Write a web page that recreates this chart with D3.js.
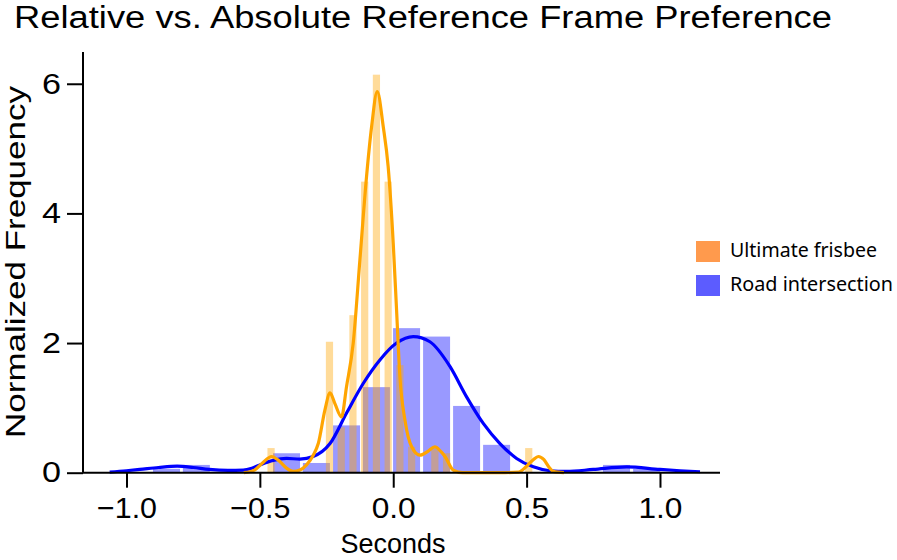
<!DOCTYPE html>
<html>
<head>
<meta charset="utf-8">
<script src="https://cdn.jsdelivr.net/npm/d3@7"></script>
<style>
  html, body { margin: 0; padding: 0; background: #ffffff; }
  svg { display: block; }
  text { font-family: "Liberation Sans", Arial, sans-serif; fill: #000; }
</style>
</head>
<body>
<svg id="chart" width="897" height="560"></svg>
<script>
// ---------------- data ----------------
const title = "Relative vs. Absolute Reference Frame Preference";
const xLabel = "Seconds";
const yLabel = "Normalized Frequency";
const seriesNames = ["Ultimate frisbee", "Road intersection"];

const xTicks = [-1.0, -0.5, 0.0, 0.5, 1.0];
const yTicks = [0, 2, 4, 6];

// histogram: Ultimate frisbee (narrow bins)
const frisbeeBinWidth = 0.0439;
const frisbeeBinCenters = [-0.458, -0.239, -0.195, -0.151, -0.107, -0.063, -0.019, 0.025, 0.069, 0.113, 0.156, 0.200, 0.508];
const frisbeeBinHeights = [0.38, 2.02, 0.70, 2.43, 4.49, 6.14, 4.49, 1.66, 0.40, 0.0, 0.38, 0.30, 0.38];

// histogram: Road intersection (wide bins)
const roadBinWidth = 0.1125;
const roadBinCenters = [-0.850, -0.738, -0.400, -0.288, -0.175, -0.063, 0.050, 0.1625, 0.275, 0.3875, 0.837, 0.950];
const roadBinHeights = [0.06, 0.12, 0.30, 0.15, 0.73, 1.32, 2.23, 2.10, 1.03, 0.43, 0.12, 0.06];

// density curves
const frisbeeKdeX = [-0.56, -0.52, -0.49, -0.456, -0.43, -0.40, -0.375, -0.35, -0.325, -0.30, -0.281, -0.256, -0.237, -0.219, -0.194, -0.175, -0.15, -0.125, -0.10, -0.081, -0.060, -0.0375, -0.019, 0.0, 0.0125, 0.025, 0.044, 0.069, 0.10, 0.13, 0.156, 0.18, 0.194, 0.225, 0.26, 0.40, 0.47, 0.50, 0.525, 0.544, 0.565, 0.585, 0.60, 0.64];
const frisbeeKdeY = [0.0, 0.04, 0.15, 0.25, 0.19, 0.07, 0.02, 0.04, 0.12, 0.27, 0.45, 0.97, 1.23, 1.07, 0.86, 1.33, 2.0, 3.28, 4.57, 5.34, 5.88, 5.34, 4.72, 3.54, 2.51, 1.48, 0.81, 0.40, 0.27, 0.33, 0.40, 0.32, 0.25, 0.04, 0.0, 0.0, 0.01, 0.10, 0.20, 0.25, 0.20, 0.08, 0.02, 0.0];

const roadKdeX = [-1.063, -1.0, -0.95, -0.88, -0.81, -0.75, -0.69, -0.62, -0.5625, -0.53, -0.50, -0.45, -0.40, -0.35, -0.30, -0.237, -0.175, -0.112, -0.05, 0.0125, 0.075, 0.1375, 0.2125, 0.275, 0.3375, 0.40, 0.4625, 0.525, 0.5875, 0.65, 0.75, 0.875, 1.0, 1.075, 1.15];
const roadKdeY = [0.01, 0.03, 0.05, 0.08, 0.10, 0.08, 0.05, 0.035, 0.04, 0.07, 0.12, 0.19, 0.22, 0.21, 0.25, 0.45, 0.92, 1.38, 1.74, 2.0, 2.10, 2.02, 1.64, 1.17, 0.76, 0.45, 0.22, 0.09, 0.03, 0.02, 0.05, 0.09, 0.05, 0.03, 0.015];

// ---------------- drawing ----------------
const svg = d3.select("#chart");
const x = d3.scaleLinear().domain([-1.163, 1.225]).range([83, 720]);
const y = d3.scaleLinear().domain([0, 6.49]).range([472.7, 52]);

const plot = svg.append("g");

function bars(centers, heights, width, gapPx, color) {
  plot.append("g").selectAll("rect")
    .data(centers.map((c, i) => ({c, h: heights[i]})))
    .join("rect")
    .attr("x", d => x(d.c - width / 2) + gapPx / 2)
    .attr("width", d => Math.max(0, x(d.c + width / 2) - x(d.c - width / 2) - gapPx))
    .attr("y", d => y(d.h))
    .attr("height", d => y(0) - y(d.h))
    .attr("fill", color);
}

bars(roadBinCenters, roadBinHeights, roadBinWidth, 3, "rgba(0,0,255,0.4)");
bars(frisbeeBinCenters, frisbeeBinHeights, frisbeeBinWidth, 4.5, "rgba(255,165,0,0.4)");

const line = d3.line().x(d => x(d[0])).y(d => y(d[1])).curve(d3.curveMonotoneX);
plot.append("path")
  .datum(roadKdeX.map((v, i) => [v, roadKdeY[i]]))
  .attr("d", line).attr("fill", "none").attr("stroke", "#0000ff").attr("stroke-width", 3.2);
plot.append("path")
  .datum(frisbeeKdeX.map((v, i) => [v, frisbeeKdeY[i]]))
  .attr("d", line).attr("fill", "none").attr("stroke", "#ffa500").attr("stroke-width", 3.2);

// axes
const xAxis = d3.axisBottom(x).tickValues(xTicks).tickSize(15).tickPadding(10)
  .tickFormat(d => d3.format(".1f")(d).replace("-", "\u2212"));
const gx = svg.append("g").attr("transform", `translate(0,${y(0)})`).call(xAxis);
gx.select(".domain").attr("stroke", "#000").attr("stroke-width", 2)
  .attr("d", `M${x.range()[0]},0H${x.range()[1]}`);
gx.selectAll(".tick line").attr("stroke", "#000").attr("stroke-width", 2);
gx.selectAll(".tick text").style("font-size", "29px").attr("dy", "0.71em")
  .attr("textLength", d => d < 0 ? 60 : 44).attr("lengthAdjust", "spacingAndGlyphs");

const yAxis = d3.axisLeft(y).tickValues(yTicks).tickSize(16).tickPadding(6).tickFormat(d3.format("d"));
const gy = svg.append("g").attr("transform", `translate(${x.range()[0]},0)`).call(yAxis);
gy.select(".domain").attr("stroke", "#000").attr("stroke-width", 2)
  .attr("d", `M0,${y.range()[0]}V${y.range()[1]}`);
gy.selectAll(".tick line").attr("stroke", "#000").attr("stroke-width", 2);
gy.selectAll(".tick text").style("font-size", "29px")
  .attr("textLength", 19).attr("lengthAdjust", "spacingAndGlyphs");

// labels
svg.append("text").attr("x", 423).attr("y", 28).attr("text-anchor", "middle")
  .style("font-size", "31px").attr("textLength", 818).attr("lengthAdjust", "spacingAndGlyphs")
  .text(title);
svg.append("text").attr("x", 393).attr("y", 553).attr("text-anchor", "middle")
  .style("font-size", "28px").attr("textLength", 105).attr("lengthAdjust", "spacingAndGlyphs")
  .text(xLabel);
svg.append("text").attr("transform", "translate(25,262) rotate(-90)").attr("text-anchor", "middle")
  .style("font-size", "28px").attr("textLength", 352).attr("lengthAdjust", "spacingAndGlyphs")
  .text(yLabel);

// legend
const legendColors = ["#ff9a4d", "#5c5cff"];
const legend = svg.append("g");
seriesNames.forEach((name, i) => {
  const ly = 241 + i * 34;
  legend.append("rect").attr("x", 696).attr("y", ly).attr("width", 24).attr("height", 21)
    .attr("fill", legendColors[i]);
  legend.append("text").attr("x", 730).attr("y", ly + 16)
    .style("font-family", "'Noto Sans', 'Open Sans', sans-serif").style("font-size", "19px")
    .attr("textLength", i === 0 ? 147 : 163).attr("lengthAdjust", "spacingAndGlyphs")
    .text(name);
});
</script>
</body>
</html>
